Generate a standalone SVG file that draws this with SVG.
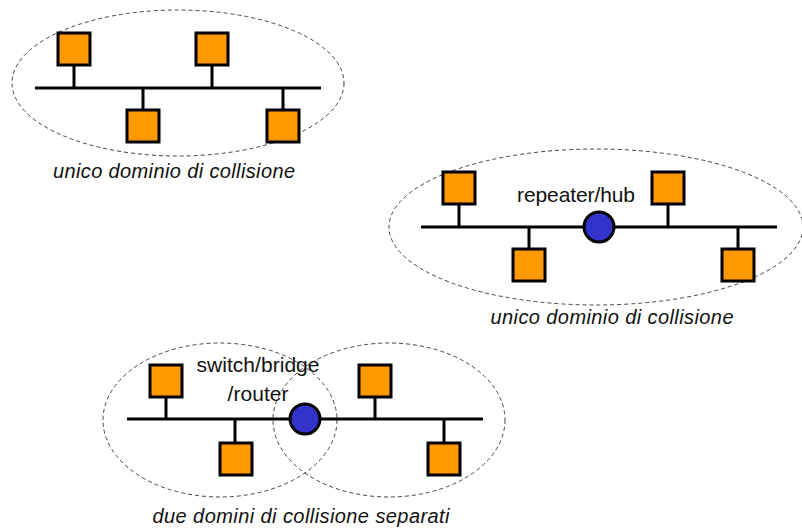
<svg xmlns="http://www.w3.org/2000/svg" width="802" height="528" viewBox="0 0 802 528">
<style>
.bg{fill:#ffffff}
.dom{fill:none;stroke:#444;stroke-width:1;stroke-dasharray:4 3}
.bus{stroke:#000;stroke-width:3;fill:none}
.host{fill:#ff9900;stroke:#000;stroke-width:3}
.dev{fill:#3333cc;stroke:#000;stroke-width:3}
.lbl{font-family:"Liberation Sans",Arial,sans-serif;font-size:21px;fill:#111}
.cap{font-family:"Liberation Sans",Arial,sans-serif;font-size:20px;font-style:italic;fill:#111}
</style>
<rect class="bg" x="0" y="0" width="802" height="528"/>
<g id="domains">
<ellipse class="dom" cx="178" cy="83" rx="166" ry="73"/>
<ellipse class="dom" cx="596" cy="227" rx="207" ry="78"/>
<ellipse class="dom" cx="220" cy="420" rx="117" ry="77"/>
<ellipse class="dom" cx="389" cy="420" rx="116" ry="77"/>
</g>
<g id="connectors">
<path class="bus" d="M35 88H321M74 65V88M212 65V88M143 88V110M283 88V110"/>
<path class="bus" d="M421 227H777M459 204V227M668 204V227M529 227V249M738 227V249"/>
<path class="bus" d="M127 419H483M166 397V419M375 397V419M235 419V443M444 419V443"/>
</g>
<g id="net1">
<rect id="h1a" class="host" x="58" y="33" width="32" height="32"/>
<rect id="h1b" class="host" x="196" y="33" width="32" height="32"/>
<rect id="h1c" class="host" x="127" y="110" width="32" height="32"/>
<rect id="h1d" class="host" x="267" y="110" width="32" height="32"/>
<text class="cap" x="174" y="178" text-anchor="middle" textLength="242">unico dominio di collisione</text>
</g>
<g id="net2">
<rect id="h2a" class="host" x="443" y="172" width="32" height="32"/>
<rect id="h2b" class="host" x="652" y="172" width="32" height="32"/>
<rect id="h2c" class="host" x="513" y="249" width="32" height="32"/>
<rect id="h2d" class="host" x="722" y="249" width="32" height="32"/>
<g id="hub">
<circle class="dev" cx="599" cy="227" r="15"/>
<text class="lbl" x="576" y="202" text-anchor="middle" textLength="118">repeater/hub</text>
</g>
<text class="cap" x="612" y="324" text-anchor="middle" textLength="243">unico dominio di collisione</text>
</g>
<g id="net3">
<rect id="h3a" class="host" x="150" y="365" width="32" height="32"/>
<rect id="h3b" class="host" x="359" y="365" width="32" height="32"/>
<rect id="h3c" class="host" x="220" y="443" width="32" height="32"/>
<rect id="h3d" class="host" x="428" y="443" width="32" height="32"/>
<g id="switch">
<circle class="dev" cx="305" cy="419" r="15"/>
<text class="lbl" x="258" y="372" text-anchor="middle" textLength="123">switch/bridge</text>
<text class="lbl" x="258" y="401" text-anchor="middle" textLength="61">/router</text>
</g>
<text class="cap" x="301" y="523" text-anchor="middle" textLength="297">due domini di collisione separati</text>
</g>
</svg>
